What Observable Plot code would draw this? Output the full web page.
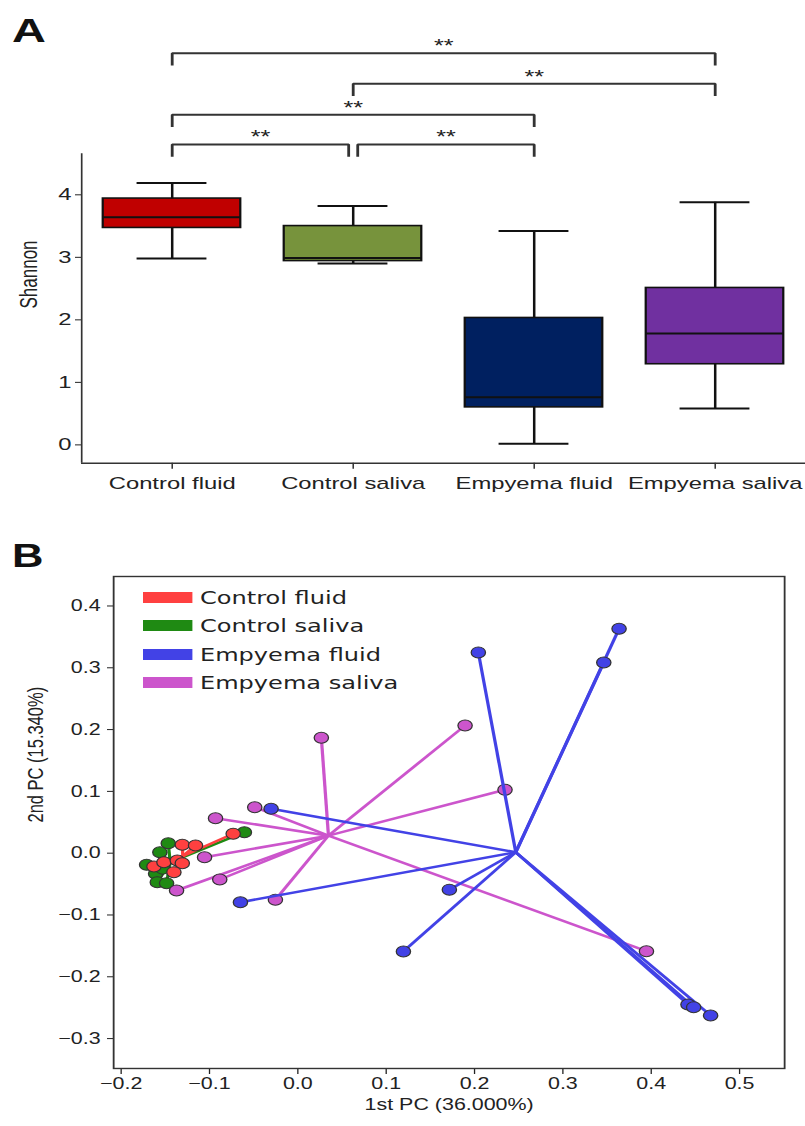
<!DOCTYPE html>
<html><head><meta charset="utf-8">
<script src="https://cdn.jsdelivr.net/npm/d3@7"></script>
<script src="https://cdn.jsdelivr.net/npm/@observablehq/plot@0.6"></script>
<style>
body{margin:0;background:#fff;}
#page{position:relative;width:805px;height:1126px;overflow:hidden;background:#fff;}
.panel{position:absolute;left:0;transform-origin:0 0;}
.plabel{position:absolute;font-family:"Liberation Sans",Arial,sans-serif;font-weight:bold;font-size:33.5px;line-height:1;color:#111;}
.legend{position:absolute;left:0;top:0;font-family:"DejaVu Sans",sans-serif;font-size:18.5px;color:#222;}
.row{position:absolute;height:20px;display:flex;align-items:center;white-space:nowrap;}
.sw{height:11px;}
</style></head>
<body><div id="page"><div id="panelA" class="panel"></div><div id="panelB" class="panel"></div></div>
<script>
// ---------- horizontal stretch of the original figure ----------
const SA = 1.4, SB = 1.3;

// ---------- Panel A data ----------
const categories = ["Control fluid", "Control saliva", "Empyema fluid", "Empyema saliva"];
const boxColors = ["#c00000", "#77933c", "#002060", "#7030a0"];
const whiskerLow = [2.98, 2.90, 0.02, 0.58];
const quartile1 = [3.47, 2.94, 0.60, 1.29];
const medians = [3.64, 2.99, 0.76, 1.78];
const quartile3 = [3.94, 3.50, 2.03, 2.51];
const whiskerHigh = [4.19, 3.82, 3.42, 3.88];
const shannonTicks = [0, 1, 2, 3, 4];

const bracketFrom = ["Control fluid", "Control saliva", "Control fluid", "Control fluid", "Control saliva"];
const bracketTo = ["Empyema saliva", "Empyema saliva", "Empyema fluid", "Control saliva", "Empyema fluid"];
const bracketLevel = [6.265, 5.776, 5.28, 4.805, 4.805];
const bracketLabel = ["**", "**", "**", "**", "**"];

// ---------- Panel B data ----------
const groups = ["Control fluid", "Control saliva", "Empyema fluid", "Empyema saliva"];
const groupColors = ["#ff4040", "#1f8a13", "#4242e6", "#cc55cc"];
const controlFluidPts = [[-0.0732, 0.0314], [-0.1308, 0.0136], [-0.1158, 0.0125], [-0.1629, -0.0215],
  [-0.1516, -0.0146], [-0.1365, -0.0118], [-0.1308, -0.0162], [-0.1403, -0.0307]];
const controlSalivaPts = [[-0.0605, 0.0340], [-0.1467, 0.0162], [-0.1562, 0.0016], [-0.1712, -0.0188],
  [-0.1610, -0.0333], [-0.1591, -0.0469], [-0.1486, -0.0485], [-0.1530, -0.0250]];
const empyemaFluidPts = [[0.3636, 0.3631], [0.3463, 0.3086], [0.2043, 0.3249], [0.1715, -0.0590],
  [0.1195, -0.1590], [0.4416, -0.2448], [0.4480, -0.2492], [0.4672, -0.2626], [-0.0303, 0.0718], [-0.0650, -0.0793]];
const empyemaSalivaPts = [[0.0266, 0.1867], [0.1893, 0.2066], [0.2345, 0.1026], [-0.0488, 0.0744],
  [-0.0932, 0.0566], [-0.1056, -0.0065], [-0.0884, -0.0426], [-0.0254, -0.0754], [-0.1373, -0.0604], [0.3946, -0.1586]];
const pcXTicks = [-0.2, -0.1, 0.0, 0.1, 0.2, 0.3, 0.4, 0.5];
const pcYTicks = [-0.3, -0.2, -0.1, 0.0, 0.1, 0.2, 0.3, 0.4];
const xTitle = "1st PC (36.000%)";
const yTitle = "2nd PC (15.340%)";
const drawOrder = ["Control saliva", "Empyema saliva", "Empyema fluid", "Control fluid"];

// ================= Panel A =================
const BOX_HALF = 0.38, CAP_HALF = 0.193, GAP = 0.025, DROP = 0.195;
const boxes = categories.map((c, i) => ({i, c, lo: whiskerLow[i], q1: quartile1[i], med: medians[i], q3: quartile3[i], hi: whiskerHigh[i]}));

const bracketLines = [], bracketTexts = [];
bracketFrom.forEach((f, k) => {
  const a = categories.indexOf(f), b = categories.indexOf(bracketTo[k]), lvl = bracketLevel[k];
  const shareStart = bracketTo.some((t, j) => j !== k && bracketLevel[j] === lvl && t === f);
  const shareEnd = bracketFrom.some((t, j) => j !== k && bracketLevel[j] === lvl && t === bracketTo[k]);
  const x1 = a + (shareStart ? GAP : 0), x2 = b - (shareEnd ? GAP : 0);
  bracketLines.push({id: k, x: x1, y: lvl - DROP}, {id: k, x: x1, y: lvl}, {id: k, x: x2, y: lvl}, {id: k, x: x2, y: lvl - DROP});
  bracketTexts.push({x: (x1 + x2) / 2, y: lvl, t: bracketLabel[k]});
});

const wA = 805 / SA;
const plotA = Plot.plot({
  width: wA, height: 505,
  marginLeft: 81 / SA, marginRight: 0, marginTop: 153.3, marginBottom: 42.3,
  style: {fontFamily: "'Liberation Sans', Arial, sans-serif", fontSize: "17px", color: "#222", background: "transparent", overflow: "visible"},
  x: {domain: [-0.5, 3.5], ticks: categories.map((c, i) => i), tickFormat: i => categories[i], tickSize: 6, tickPadding: 8, label: null},
  y: {domain: [-0.293, 4.656], ticks: shannonTicks, tickFormat: d3.format("d"), tickSize: 6 / SA, tickPadding: 3, label: null},
  color: {domain: categories, range: boxColors},
  marks: [
    Plot.ruleX([-0.5], {y1: -0.293, y2: 4.656, stroke: "#333", strokeWidth: 1.2}),
    Plot.ruleY([-0.293], {stroke: "#333", strokeWidth: 1.5}),
    Plot.ruleX(boxes, {x: "i", y1: "lo", y2: "hi", stroke: "#111", strokeWidth: 1.8}),
    Plot.ruleY(boxes, {y: "hi", x1: d => d.i - CAP_HALF, x2: d => d.i + CAP_HALF, stroke: "#111", strokeWidth: 2}),
    Plot.ruleY(boxes, {y: "lo", x1: d => d.i - CAP_HALF, x2: d => d.i + CAP_HALF, stroke: "#111", strokeWidth: 2}),
    Plot.rectY(boxes, {x1: d => d.i - BOX_HALF, x2: d => d.i + BOX_HALF, y1: "q1", y2: "q3", fill: "c", stroke: "#111", strokeWidth: 1.6}),
    Plot.ruleY(boxes, {y: "med", x1: d => d.i - BOX_HALF, x2: d => d.i + BOX_HALF, stroke: "#111", strokeWidth: 2}),
    Plot.line(bracketLines, {x: "x", y: "y", z: "id", stroke: "#333", strokeWidth: 2, strokeLinejoin: "miter", strokeLinecap: "butt"}),
    Plot.text(bracketTexts, {x: "x", y: "y", text: "t", lineAnchor: "bottom", dy: -1, fontSize: 18, fill: "#222"}),
    Plot.text(["Shannon"], {text: d => d, frameAnchor: "left", dx: -52 / SA, rotate: -90, fontSize: 17, fill: "#222"})
  ]
});
const pA = document.getElementById("panelA");
pA.style.top = "0px"; pA.style.width = wA + "px"; pA.style.height = "510px";
pA.style.transform = `scaleX(${SA})`;
pA.appendChild(plotA);
const la = document.createElement("div");
la.className = "plabel"; la.textContent = "A";
la.style.left = (12 / SA) + "px"; la.style.top = "13.6px";
pA.appendChild(la);

// ================= Panel B =================
const ptsByGroup = {
  "Control fluid": controlFluidPts, "Control saliva": controlSalivaPts,
  "Empyema fluid": empyemaFluidPts, "Empyema saliva": empyemaSalivaPts
};
const groupMarks = [];
drawOrder.forEach(g => {
  const pts = ptsByGroup[g];
  const cx = d3.mean(pts, d => d[0]), cy = d3.mean(pts, d => d[1]);
  const rows = pts.map(p => ({group: g, x: p[0], y: p[1], cx, cy}));
  groupMarks.push(
    Plot.link(rows, {x1: "cx", y1: "cy", x2: "x", y2: "y", stroke: "group", strokeWidth: 2.5}),
    Plot.dot(rows, {x: "x", y: "y", r: 5.5, fill: "group", stroke: "#333", strokeWidth: 1})
  );
});

const wB = 805 / SB;
const fmt = d3.format(".1f");
const plotB = Plot.plot({
  width: wB, height: 586,
  marginLeft: 113 / SB, marginRight: 21 / SB, marginTop: 36, marginBottom: 58,
  style: {fontFamily: "'Liberation Sans', Arial, sans-serif", fontSize: "16.5px", color: "#222", background: "transparent", overflow: "visible"},
  x: {domain: [-0.2085, 0.551], ticks: pcXTicks, tickFormat: fmt, tickSize: 6, tickPadding: 3, label: null},
  y: {domain: [-0.3484, 0.4477], ticks: pcYTicks, tickFormat: fmt, tickSize: 6 / SB, tickPadding: 5.4, label: null},
  color: {domain: groups, range: groupColors},
  marks: [
    ...groupMarks,
    Plot.frame({stroke: "#333", strokeWidth: 1.4}),
    Plot.text([xTitle], {text: d => d, frameAnchor: "bottom", dy: 42, fontSize: 16.5, fill: "#222"}),
    Plot.text([yTitle], {text: d => d, frameAnchor: "left", dx: -78 / SB, rotate: -90, fontSize: 16.5, fill: "#222"})
  ]
});
const pB = document.getElementById("panelB");
pB.style.top = "540px"; pB.style.width = wB + "px"; pB.style.height = "586px";
pB.style.transform = `scaleX(${SB})`;
pB.appendChild(plotB);
const lb = document.createElement("div");
lb.className = "plabel"; lb.textContent = "B";
lb.style.left = (12 / SB) + "px"; lb.style.top = "-1.4px";
pB.appendChild(lb);

const legend = document.createElement("div");
legend.className = "legend";
groups.forEach((g, i) => {
  const row = document.createElement("div");
  row.className = "row";
  row.style.left = (143 / SB) + "px";
  row.style.top = (57.3 + i * 28.5 - 10) + "px";
  const sw = document.createElement("span");
  sw.className = "sw";
  sw.style.width = (49 / SB) + "px";
  sw.style.marginRight = (8 / SB) + "px";
  sw.style.background = groupColors[i];
  const tx = document.createElement("span");
  tx.textContent = g;
  row.appendChild(sw); row.appendChild(tx);
  legend.appendChild(row);
});
pB.appendChild(legend);
</script></body></html>
